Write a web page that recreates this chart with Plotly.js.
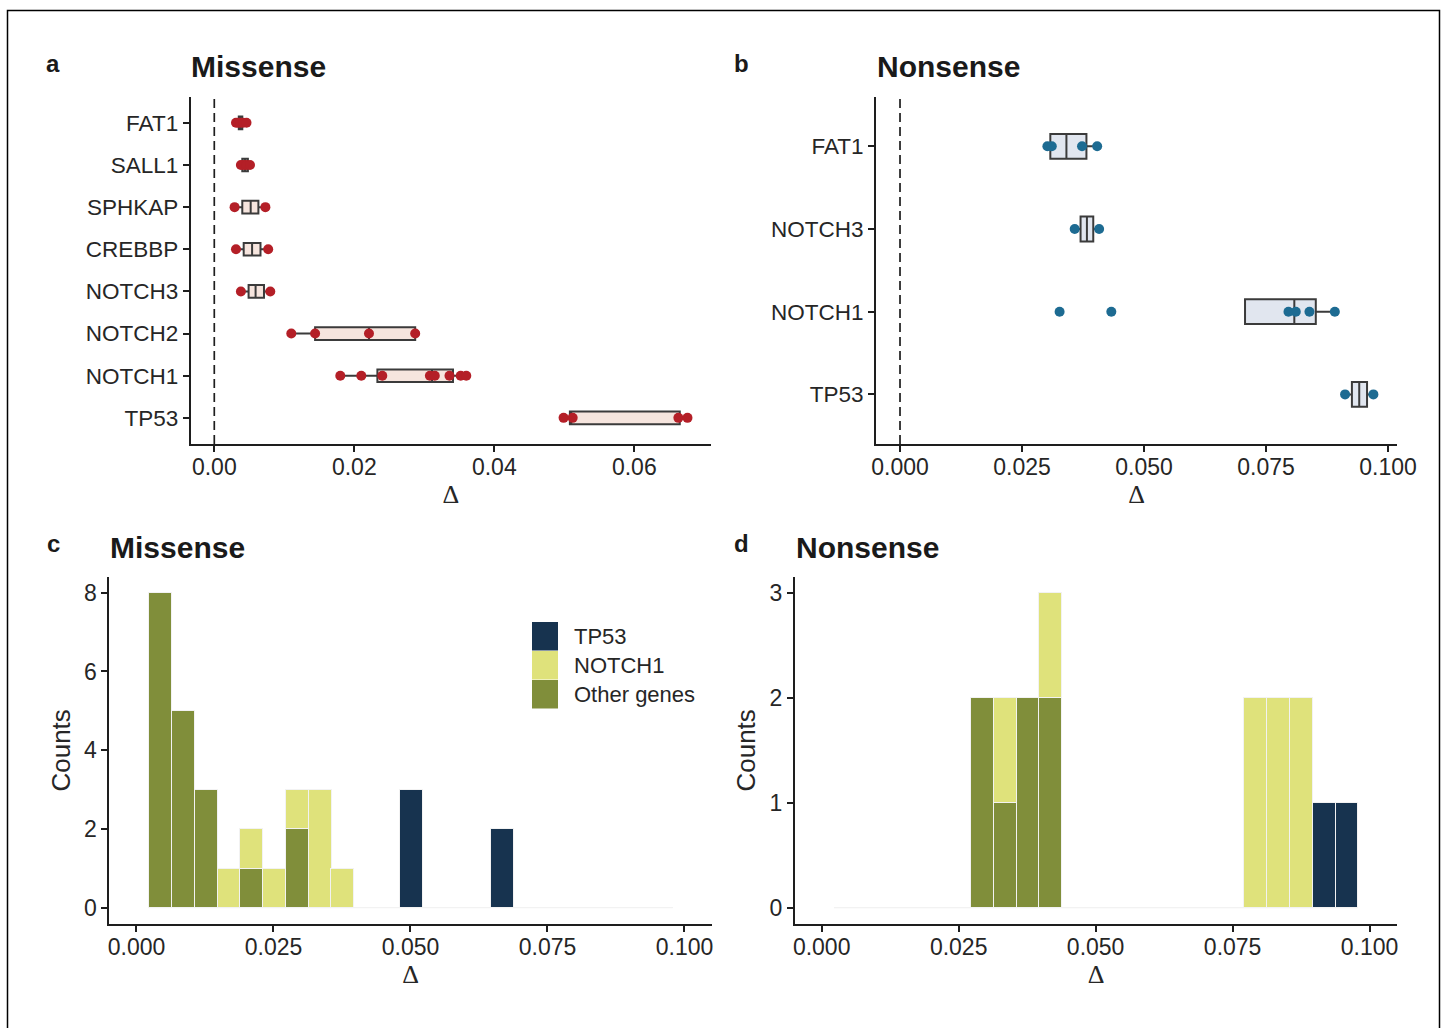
<!DOCTYPE html>
<html>
<head>
<meta charset="utf-8">
<script src="https://cdn.plot.ly/plotly-3.0.1.min.js"></script>
<style>
  html, body { margin: 0; padding: 0; background: #ffffff; }
  #chart { width: 1445px; height: 1028px; }
</style>
</head>
<body>
<div id="chart"></div>
<script>
// ---------------- DATA ----------------
// Panel a (Missense) : genes, box statistics and observed points
const misGenes   = ['FAT1', 'SALL1', 'SPHKAP', 'CREBBP', 'NOTCH3', 'NOTCH2', 'NOTCH1', 'TP53'];
const misLower   = [0.0031, 0.0038, 0.0029, 0.0031, 0.0038, 0.0110, 0.0180, 0.0499];
const misQ1      = [0.0035, 0.0040, 0.0040, 0.0042, 0.0049, 0.0144, 0.0233, 0.0508];
const misMedian  = [0.0037, 0.0044, 0.0052, 0.0054, 0.0059, 0.0221, 0.0311, 0.0510];
const misQ3      = [0.0040, 0.0048, 0.0063, 0.0066, 0.0071, 0.0287, 0.0341, 0.0665];
const misUpper   = [0.0046, 0.0051, 0.0073, 0.0077, 0.0080, 0.0287, 0.0360, 0.0676];
const misPointGene = ['FAT1','FAT1','FAT1','FAT1','FAT1',
                      'SALL1','SALL1','SALL1','SALL1',
                      'SPHKAP','SPHKAP',
                      'CREBBP','CREBBP',
                      'NOTCH3','NOTCH3',
                      'NOTCH2','NOTCH2','NOTCH2','NOTCH2',
                      'NOTCH1','NOTCH1','NOTCH1','NOTCH1','NOTCH1','NOTCH1','NOTCH1','NOTCH1',
                      'TP53','TP53','TP53','TP53'];
const misPointVal  = [0.0031, 0.0034, 0.0037, 0.0041, 0.0046,
                      0.0038, 0.0042, 0.0046, 0.0051,
                      0.0029, 0.0073,
                      0.0031, 0.0077,
                      0.0038, 0.0080,
                      0.0110, 0.0144, 0.0221, 0.0287,
                      0.0180, 0.0210, 0.0240, 0.0308, 0.0315, 0.0336, 0.0352, 0.0360,
                      0.0499, 0.0512, 0.0663, 0.0676];

// Panel b (Nonsense)
const nonGenes   = ['FAT1', 'NOTCH3', 'NOTCH1', 'TP53'];
const nonLower   = [0.0302, 0.0358, 0.0707, 0.0912];
const nonQ1      = [0.0308, 0.0370, 0.0707, 0.0926];
const nonMedian  = [0.0341, 0.0383, 0.0808, 0.0941];
const nonQ3      = [0.0382, 0.0396, 0.0852, 0.0957];
const nonUpper   = [0.0404, 0.0408, 0.0891, 0.0970];
const nonPointGene = ['FAT1','FAT1','FAT1','FAT1',
                      'NOTCH3','NOTCH3',
                      'NOTCH1','NOTCH1','NOTCH1','NOTCH1','NOTCH1','NOTCH1',
                      'TP53','TP53'];
const nonPointVal  = [0.0302, 0.0311, 0.0373, 0.0404,
                      0.0358, 0.0408,
                      0.0327, 0.0433, 0.0796, 0.0811, 0.0839, 0.0891,
                      0.0912, 0.0970];

// Panels c, d : histogram bins (centres) and stacked counts
const binCenters = [0.00432, 0.00848, 0.01263, 0.01679, 0.02095, 0.02510, 0.02926, 0.03342,
                    0.03757, 0.04173, 0.04589, 0.05005, 0.05420, 0.05836, 0.06252, 0.06667,
                    0.07083, 0.07499, 0.07914, 0.08330, 0.08746, 0.09162, 0.09577];
const binWidth = 0.004157;
const histGroups = ['Other genes', 'NOTCH1', 'TP53'];
const legendOrder = ['TP53', 'NOTCH1', 'Other genes'];
const misOther  = [8,5,3,0,1,0,2,0,0,0,0,0,0,0,0,0,0,0,0,0,0,0,0];
const misNotch1 = [0,0,0,1,1,1,1,3,1,0,0,0,0,0,0,0,0,0,0,0,0,0,0];
const misTp53   = [0,0,0,0,0,0,0,0,0,0,0,3,0,0,0,2,0,0,0,0,0,0,0];
const nonOther  = [0,0,0,0,0,0,2,1,2,2,0,0,0,0,0,0,0,0,0,0,0,0,0];
const nonNotch1 = [0,0,0,0,0,0,0,1,0,1,0,0,0,0,0,0,0,0,2,2,2,0,0];
const nonTp53   = [0,0,0,0,0,0,0,0,0,0,0,0,0,0,0,0,0,0,0,0,0,1,1];

// ---------------- STYLE ----------------
const W = 1445, H = 1028;
const px = v => v / W;            // horizontal pixel -> paper
const py = v => 1 - v / H;        // vertical pixel -> paper
const FONT = 'Liberation Sans, Arial, Helvetica, sans-serif';
const TXT = '#262626';
const AX = '#1e1e1e';
const groupColor = { 'Other genes': '#808e3a', 'NOTCH1': '#dfe27b', 'TP53': '#17334f' };
const colRed = '#b41f27', colBlue = '#1d6b92';

const traces = [];

// Panel a boxes + points
traces.push({
  type: 'box', orientation: 'h', xaxis: 'x', yaxis: 'y',
  y: misGenes, q1: misQ1, median: misMedian, q3: misQ3,
  lowerfence: misLower, upperfence: misUpper,
  width: 0.3, whiskerwidth: 0, boxpoints: false,
  fillcolor: 'rgba(240,212,200,0.6)',
  line: { color: '#3b3b3b', width: 2 },
  showlegend: false, hoverinfo: 'skip'
});
traces.push({
  type: 'scatter', mode: 'markers', xaxis: 'x', yaxis: 'y',
  x: misPointVal, y: misPointGene,
  marker: { color: colRed, size: 10 },
  showlegend: false, hoverinfo: 'skip'
});

// Panel b boxes + points
traces.push({
  type: 'box', orientation: 'h', xaxis: 'x2', yaxis: 'y2',
  y: nonGenes, q1: nonQ1, median: nonMedian, q3: nonQ3,
  lowerfence: nonLower, upperfence: nonUpper,
  width: 0.3, whiskerwidth: 0, boxpoints: false,
  fillcolor: 'rgba(205,214,228,0.6)',
  line: { color: '#3b3b3b', width: 2 },
  showlegend: false, hoverinfo: 'skip'
});
traces.push({
  type: 'scatter', mode: 'markers', xaxis: 'x2', yaxis: 'y2',
  x: nonPointVal, y: nonPointGene,
  marker: { color: colBlue, size: 10 },
  showlegend: false, hoverinfo: 'skip'
});

// Histograms
const barLine = { color: '#f2f2f2', width: 1 };
function bars(counts, name, xa, ya) {
  return {
    type: 'bar', x: binCenters, y: counts, width: binWidth, name: name,
    xaxis: xa, yaxis: ya, marker: { color: groupColor[name], line: barLine },
    showlegend: false, hoverinfo: 'skip'
  };
}
traces.push(bars(misOther,  histGroups[0], 'x3', 'y3'));
traces.push(bars(misNotch1, histGroups[1], 'x3', 'y3'));
traces.push(bars(misTp53,   histGroups[2], 'x3', 'y3'));
traces.push(bars(nonOther,  histGroups[0], 'x4', 'y4'));
traces.push(bars(nonNotch1, histGroups[1], 'x4', 'y4'));
traces.push(bars(nonTp53,   histGroups[2], 'x4', 'y4'));

// ---------------- LAYOUT ----------------
function xAxis(domain, range, tickvals, fmt, anchor) {
  return {
    domain: domain, range: range, anchor: anchor,
    tickvals: tickvals, tickformat: fmt,
    showgrid: false, zeroline: false,
    showline: true, linecolor: AX, linewidth: 2,
    ticks: 'outside', ticklen: 6, tickwidth: 2, tickcolor: AX,
    ticklabelstandoff: -5,
    tickfont: { family: FONT, size: 23, color: TXT },
    title: { text: 'Δ', font: { family: 'Liberation Serif, DejaVu Serif, serif', size: 26, color: TXT }, standoff: 6 }
  };
}
function yAxisCat(domain, range, cats, anchor) {
  return {
    domain: domain, range: range, anchor: anchor, type: 'category',
    categoryorder: 'array', categoryarray: cats,
    showgrid: false, zeroline: false,
    showline: true, linecolor: AX, linewidth: 2,
    ticks: 'outside', ticklen: 6, tickwidth: 2, tickcolor: AX,
    tickfont: { family: FONT, size: 22.5, color: TXT }
  };
}
function yAxisCount(domain, range, tickvals, anchor) {
  return {
    domain: domain, range: range, anchor: anchor,
    tickvals: tickvals,
    showgrid: false, zeroline: false,
    showline: true, linecolor: AX, linewidth: 2,
    ticks: 'outside', ticklen: 6, tickwidth: 2, tickcolor: AX,
    tickfont: { family: FONT, size: 23, color: TXT },
    title: { text: 'Counts', font: { family: FONT, size: 26, color: TXT }, standoff: 6 }
  };
}

const domTop = [py(444), py(96.7)];
const domBot = [py(924), py(576.7)];

const shapes = [
  // outer frame
  { type: 'rect', xref: 'paper', yref: 'paper', x0: px(7.5), x1: px(1439.5), y0: py(1040), y1: py(10.5),
    line: { color: '#000000', width: 1.5 }, fillcolor: 'rgba(0,0,0,0)' },
  // dashed reference lines at zero
  { type: 'line', xref: 'x', yref: 'y domain', x0: 0, x1: 0, y0: 0, y1: 1,
    line: { color: AX, width: 1.7, dash: '9px,5px' } },
  { type: 'line', xref: 'x2', yref: 'y2 domain', x0: 0, x1: 0, y0: 0, y1: 1,
    line: { color: AX, width: 1.7, dash: '9px,5px' } },
  // zero-count baselines of the histograms (empty bins)
  { type: 'line', xref: 'x3', yref: 'y3', layer: 'below',
    x0: binCenters[0] - binWidth / 2, x1: binCenters[binCenters.length - 1] + binWidth / 2, y0: 0, y1: 0,
    line: { color: '#ececec', width: 1 } },
  { type: 'line', xref: 'x4', yref: 'y4', layer: 'below',
    x0: binCenters[0] - binWidth / 2, x1: binCenters[binCenters.length - 1] + binWidth / 2, y0: 0, y1: 0,
    line: { color: '#ececec', width: 1 } }
];

const annotations = [
  { text: '<b>a</b>', x: 53, y: 63, size: 24 },
  { text: '<b>b</b>', x: 741, y: 63, size: 24 },
  { text: '<b>c</b>', x: 53, y: 543, size: 24 },
  { text: '<b>d</b>', x: 741, y: 543, size: 24 }
].map(a => ({ text: a.text, xref: 'paper', yref: 'paper', x: px(a.x), y: py(a.y), xanchor: 'center', yanchor: 'middle',
              showarrow: false, font: { family: FONT, size: a.size, color: '#1a1a1a' } }));
[
  { text: '<b>Missense</b>', x: 189, y: 67 },
  { text: '<b>Nonsense</b>', x: 875, y: 67 },
  { text: '<b>Missense</b>', x: 108, y: 547 },
  { text: '<b>Nonsense</b>', x: 794, y: 547 }
].forEach(a => annotations.push({ text: a.text, xref: 'paper', yref: 'paper', x: px(a.x), y: py(a.y),
  xanchor: 'left', yanchor: 'middle', showarrow: false, font: { family: FONT, size: 30, color: '#1a1a1a' } }));

// Legend for the histogram fill groups (large keys as in the reference)
legendOrder.forEach((g, i) => {
  const top = 622 + i * 29;
  shapes.push({ type: 'rect', xref: 'paper', yref: 'paper', x0: px(532), x1: px(558), y0: py(top + 28.5), y1: py(top),
                fillcolor: groupColor[g], line: { width: 0 } });
  annotations.push({ text: g, xref: 'paper', yref: 'paper', x: px(572), y: py(top + 14.5), xanchor: 'left', yanchor: 'middle',
                     showarrow: false, font: { family: FONT, size: 22, color: TXT } });
});

const layout = {
  width: W, height: H,
  margin: { l: 0, r: 0, t: 0, b: 0 },
  paper_bgcolor: '#ffffff', plot_bgcolor: 'rgba(0,0,0,0)',
  barmode: 'stack', bargap: 0, showlegend: false,
  font: { family: FONT, color: TXT },
  xaxis:  xAxis([px(190.7), px(711)], [-0.00337, 0.07096], [0, 0.02, 0.04, 0.06], '.2f', 'y'),
  yaxis:  yAxisCat(domTop, [7.62, -0.62], misGenes, 'x'),
  xaxis2: xAxis([px(876), px(1397)], [-0.00492, 0.10184], [0, 0.025, 0.05, 0.075, 0.1], '.3f', 'y2'),
  yaxis2: yAxisCat(domTop, [3.6, -0.6], nonGenes, 'x2'),
  xaxis3: xAxis([px(109.3), px(712)], [-0.00496, 0.10502], [0, 0.025, 0.05, 0.075, 0.1], '.3f', 'y3'),
  yaxis3: yAxisCount(domBot, [-0.414, 8.406], [0, 2, 4, 6, 8], 'x3'),
  xaxis4: xAxis([px(795), px(1397)], [-0.00487, 0.105], [0, 0.025, 0.05, 0.075, 0.1], '.3f', 'y4'),
  yaxis4: yAxisCount(domBot, [-0.155, 3.152], [0, 1, 2, 3], 'x4'),
  shapes: shapes,
  annotations: annotations
};

Plotly.newPlot('chart', traces, layout, { staticPlot: true, displayModeBar: false });
</script>
</body>
</html>
